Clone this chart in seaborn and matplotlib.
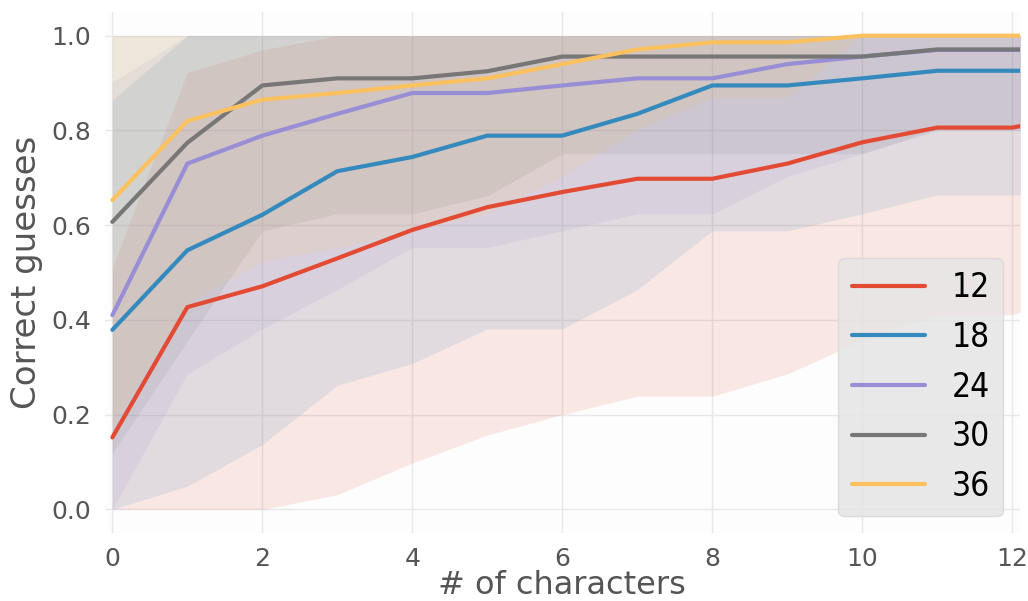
import numpy as np
import pandas as pd
import matplotlib
matplotlib.use("Agg")
import matplotlib.pyplot as plt
import seaborn as sns
from matplotlib import font_manager as fm

# ---------------- data ----------------
n_chars = [0, 1, 2, 3, 4, 5, 6, 7, 8, 9, 10, 11, 12, 13]
sizes = ["12", "18", "24", "30", "36"]

mean_12 = [0.152, 0.427, 0.471, 0.530, 0.590, 0.638, 0.670, 0.698, 0.698, 0.730, 0.775, 0.806, 0.806, 0.835]
mean_18 = [0.379, 0.547, 0.622, 0.714, 0.744, 0.789, 0.789, 0.835, 0.895, 0.895, 0.910, 0.926, 0.926, 0.926]
mean_24 = [0.410, 0.730, 0.789, 0.835, 0.879, 0.879, 0.895, 0.910, 0.910, 0.940, 0.956, 0.970, 0.970, 0.970]
mean_30 = [0.607, 0.774, 0.895, 0.910, 0.910, 0.925, 0.956, 0.956, 0.956, 0.956, 0.956, 0.971, 0.971, 0.971]
mean_36 = [0.653, 0.820, 0.865, 0.879, 0.895, 0.910, 0.940, 0.971, 0.986, 0.986, 1.000, 1.000, 1.000, 1.000]

low_12 = [0.000, 0.000, 0.000, 0.031, 0.098, 0.157, 0.200, 0.239, 0.239, 0.286, 0.357, 0.411, 0.411, 0.464]
high_12 = [0.511, 0.922, 0.970, 1.0, 1.0, 1.0, 1.0, 1.0, 1.0, 1.0, 1.0, 1.0, 1.0, 1.0]
low_18 = [0.000, 0.049, 0.137, 0.262, 0.308, 0.381, 0.381, 0.464, 0.588, 0.588, 0.624, 0.664, 0.664, 0.664]
high_18 = [0.864, 1.0, 1.0, 1.0, 1.0, 1.0, 1.0, 1.0, 1.0, 1.0, 1.0, 1.0, 1.0, 1.0]
low_24 = [0.000, 0.286, 0.381, 0.464, 0.553, 0.553, 0.588, 0.624, 0.624, 0.703, 0.751, 0.799, 0.799, 0.799]
high_24 = [0.902, 1.0, 1.0, 1.0, 1.0, 1.0, 1.0, 1.0, 1.0, 1.0, 1.0, 1.0, 1.0, 1.0]
low_30 = [0.119, 0.356, 0.588, 0.624, 0.624, 0.662, 0.751, 0.751, 0.751, 0.751, 0.751, 0.803, 0.803, 0.803]
high_30 = [1.0, 1.0, 1.0, 1.0, 1.0, 1.0, 1.0, 1.0, 1.0, 1.0, 1.0, 1.0, 1.0, 1.0]
low_36 = [0.177, 0.436, 0.523, 0.553, 0.588, 0.624, 0.703, 0.803, 0.869, 0.869, 1.0, 1.0, 1.0, 1.0]
high_36 = [1.0, 1.0, 1.0, 1.0, 1.0, 1.0, 1.0, 1.0, 1.0, 1.0, 1.0, 1.0, 1.0, 1.0]

x_ticks = [0, 2, 4, 6, 8, 10, 12]
y_ticks = [0.0, 0.2, 0.4, 0.6, 0.8, 1.0]

colors = ["#E24A33", "#348ABD", "#988ED5", "#777777", "#FBC15E"]

means = [mean_12, mean_18, mean_24, mean_30, mean_36]
lows = [low_12, low_18, low_24, low_30, low_36]
highs = [high_12, high_18, high_24, high_30, high_36]

rows = []
for s, m in zip(sizes, means):
    for c, v in zip(n_chars, m):
        rows.append({"chars": c, "value": v, "size": s})
df = pd.DataFrame(rows)

# ---------------- style ----------------
sns.set_theme(style="whitegrid")
plt.rcParams["font.family"] = ["DejaVu Sans"]
has_cond = any(f.name == "DejaVu Sans" and "ondensed" in str(f.fname)
               for f in fm.fontManager.ttflist)

fig = plt.figure(figsize=(10.28, 6.01), dpi=100)
ax = fig.add_axes([0.102, 0.113, 0.890, 0.867])
ax.set_facecolor("#fdfdfd")

for s, lo, hi, col in zip(sizes, lows, highs, colors):
    ax.fill_between(n_chars, lo, hi, color=col, alpha=0.12, linewidth=0, zorder=1)

sns.lineplot(data=df, x="chars", y="value", hue="size", hue_order=sizes,
             palette=colors, linewidth=3, ax=ax, zorder=3)

ax.set_xlim(-0.1, 12.1)
ax.set_ylim(-0.05, 1.05)
ax.set_xticks(x_ticks)
ax.set_yticks(y_ticks)
ax.set_yticklabels([f"{v:.1f}" for v in y_ticks])
ax.grid(True, color="#e8e8e8", linewidth=1)
for sp in ax.spines.values():
    sp.set_visible(False)
ax.tick_params(axis="both", which="major", direction="out", length=5, width=1,
               color="#aaaaaa", labelcolor="#555555", labelsize=18, pad=5)
ax.set_xlabel("# of characters", fontsize=23, color="#555555", labelpad=-1)
ax.set_ylabel("Correct guesses", fontsize=24.5, color="#555555", labelpad=6)

leg_font = {"size": 24}
if has_cond:
    leg_font["stretch"] = "condensed"
leg = ax.legend(loc="lower right", prop=leg_font, handlelength=2.2,
                frameon=True, fancybox=True, facecolor="#e5e5e5",
                edgecolor="#d8d8d8", framealpha=0.85, title=None)
for t in leg.get_texts():
    t.set_color("black")

fig.savefig("out.png", dpi=100)
